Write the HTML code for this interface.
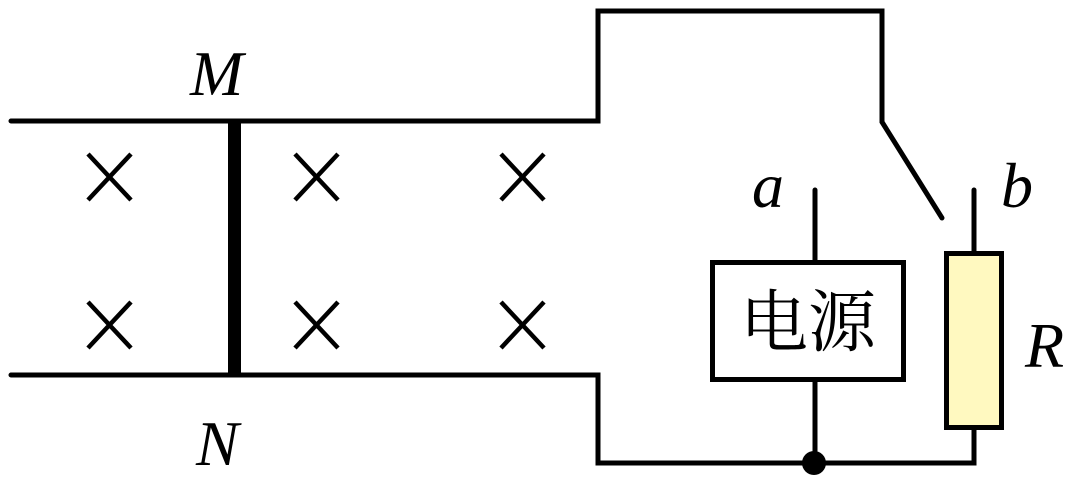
<!DOCTYPE html>
<html><head><style>
body{margin:0;background:#fff;}
svg{display:block}
.l{font-family:"Liberation Serif",serif;font-style:italic;font-size:64px;}
.c{font-family:"Liberation Serif","Noto Serif CJK SC",serif;font-size:68px;}
</style></head><body>
<svg width="1083" height="484" viewBox="0 0 1083 484" xmlns="http://www.w3.org/2000/svg">
<g stroke="#000" stroke-width="5" fill="none" stroke-linecap="round" stroke-linejoin="miter">
<polyline points="11,121 598,121 598,11 882,11 882,122 942,218"/>
<polyline points="11,375 598,375 598,463 974,463 974,428"/>
<line x1="815" y1="190" x2="815" y2="262"/>
<line x1="815" y1="380" x2="815" y2="463"/>
<line x1="974" y1="190" x2="974" y2="253"/>
<rect x="712.5" y="262.5" width="191" height="117"/>
<rect x="946.5" y="253.5" width="55" height="174" fill="#fff9c0"/>
</g>
<rect x="228" y="121" width="13" height="254" fill="#000"/>
<circle cx="814" cy="463" r="12" fill="#000"/>
<g stroke="#000" stroke-width="4.5">
<path d="M88,154 L131,200 M131,154 L88,200"/>
<path d="M295,154 L338,200 M338,154 L295,200"/>
<path d="M501,154 L544,200 M544,154 L501,200"/>
<path d="M88,302 L131,348 M131,302 L88,348"/>
<path d="M295,302 L338,348 M338,302 L295,348"/>
<path d="M501,302 L544,348 M544,302 L501,348"/>
</g>
<g fill="#000" class="l">
<text x="190" y="95">M</text>
<text x="196" y="465">N</text>
<text x="752" y="207">a</text>
<text x="1001" y="207">b</text>
<text x="1025" y="367">R</text>
</g>
<text x="808" y="346" text-anchor="middle" class="c" fill="#000">电源</text>
</svg>
</body></html>
